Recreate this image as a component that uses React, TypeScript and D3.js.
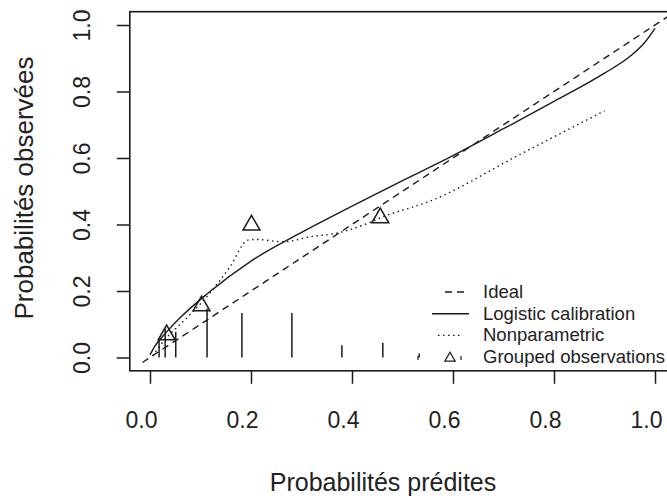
import * as d3 from "d3";
import React, { useEffect, useRef } from "react";

// axis ticks
const tickValues = [0, 0.2, 0.4, 0.6, 0.8, 1.0];

// ideal line end points (y = x)
const idealP = [-0.015, 1.06];

// logistic calibration curve
const logisticP = [0.0, 0.01, 0.033, 0.06, 0.112, 0.2, 0.3, 0.4, 0.5, 0.6, 0.7, 0.8, 0.9, 0.95, 0.98, 1.0];
const logisticObs = [0.008, 0.035, 0.077, 0.12, 0.19, 0.29, 0.376, 0.455, 0.532, 0.607, 0.688, 0.77, 0.855, 0.905, 0.948, 0.99];

// nonparametric (lowess) curve
const npP = [0.005, 0.03, 0.06, 0.112, 0.158, 0.194, 0.21, 0.264, 0.317, 0.37, 0.422, 0.461, 0.554, 0.733, 0.9];
const npObs = [0.005, 0.055, 0.1, 0.182, 0.272, 0.353, 0.355, 0.348, 0.363, 0.374, 0.398, 0.423, 0.47, 0.611, 0.742];

// grouped observations (triangles)
const groupP = [0.033, 0.102, 0.201, 0.456];
const groupObs = [0.068, 0.155, 0.398, 0.42];

// distribution of predicted risks (spikes at the bottom)
const riskP = [0.018, 0.03, 0.051, 0.113, 0.182, 0.281, 0.38, 0.461, 0.533];
const riskFreq = [0.052, 0.087, 0.077, 0.147, 0.134, 0.134, 0.037, 0.044, 0.012];

const legendLabels = ["Ideal", "Logistic calibration", "Nonparametric", "Grouped observations"];

const W = 667;
const H = 498;
const INK = "#1c1c1c";
const FONT = "'Liberation Sans', Arial, sans-serif";

const Chart: React.FC = () => {
  const ref = useRef<SVGSVGElement>(null);

  useEffect(() => {
    if (!ref.current) return;
    const svg = d3.select(ref.current);
    svg.selectAll("*").remove();

    const x = d3.scaleLinear().domain([-0.04, 1.04]).range([129.8, 675.2]);
    const y = d3.scaleLinear().domain([-0.04, 1.04]).range([370.8, 11.7]);

    svg
      .append("defs")
      .append("clipPath")
      .attr("id", "plotclip")
      .append("rect")
      .attr("x", x(-0.04))
      .attr("y", y(1.04))
      .attr("width", x(1.04) - x(-0.04))
      .attr("height", y(-0.04) - y(1.04));

    const plot = svg.append("g").attr("clip-path", "url(#plotclip)");

    const line = d3
      .line<[number, number]>()
      .x((d) => x(d[0]))
      .y((d) => y(d[1]));

    // ideal
    plot
      .append("path")
      .datum(idealP.map((p) => [p, p] as [number, number]))
      .attr("fill", "none")
      .attr("stroke", INK)
      .attr("stroke-width", 1.4)
      .attr("stroke-dasharray", "7,5")
      .attr("d", line);

    // logistic calibration
    plot
      .append("path")
      .datum(logisticP.map((p, i) => [p, logisticObs[i]] as [number, number]))
      .attr("fill", "none")
      .attr("stroke", INK)
      .attr("stroke-width", 1.4)
      .attr("d", line.curve(d3.curveMonotoneX));

    // nonparametric
    plot
      .append("path")
      .datum(npP.map((p, i) => [p, npObs[i]] as [number, number]))
      .attr("fill", "none")
      .attr("stroke", INK)
      .attr("stroke-width", 1.4)
      .attr("stroke-dasharray", "1.5,3.5")
      .attr("d", line.curve(d3.curveMonotoneX));

    // risk distribution spikes
    plot
      .selectAll(".spike")
      .data(riskP)
      .enter()
      .append("line")
      .attr("x1", (d) => x(d))
      .attr("x2", (d) => x(d))
      .attr("y1", y(0))
      .attr("y2", (d, i) => y(riskFreq[i]))
      .attr("stroke", INK)
      .attr("stroke-width", 1.5);

    // grouped observations
    const tri = d3.symbol().type(d3.symbolTriangle).size(125);
    plot
      .selectAll(".grp")
      .data(groupP)
      .enter()
      .append("path")
      .attr("d", tri)
      .attr("transform", (d, i) => `translate(${x(d)},${y(groupObs[i])})`)
      .attr("fill", "none")
      .attr("stroke", INK)
      .attr("stroke-width", 1.5);

    // box
    svg
      .append("rect")
      .attr("x", x(-0.04))
      .attr("y", y(1.04))
      .attr("width", x(1.04) - x(-0.04))
      .attr("height", y(-0.04) - y(1.04))
      .attr("fill", "none")
      .attr("stroke", INK)
      .attr("stroke-width", 1.6);

    // x axis
    const gx = svg
      .append("g")
      .attr("transform", `translate(0,${y(-0.04)})`)
      .call(d3.axisBottom(x).tickValues(tickValues).tickSize(13).tickFormat(d3.format(".1f")));
    gx.select(".domain").remove();
    gx.selectAll("line").attr("stroke", INK).attr("stroke-width", 1.5);
    gx.selectAll("text")
      .attr("x", -9)
      .attr("y", 57)
      .attr("dy", 0)
      .attr("fill", "#222")
      .style("font-family", FONT)
      .style("font-size", "23px");

    // y axis
    const gy = svg
      .append("g")
      .attr("transform", `translate(${x(-0.04)},0)`)
      .call(d3.axisLeft(y).tickValues(tickValues).tickSize(13).tickFormat(d3.format(".1f")));
    gy.select(".domain").remove();
    gy.selectAll("line").attr("stroke", INK).attr("stroke-width", 1.5);
    gy.selectAll("text")
      .attr("x", 0)
      .attr("y", 0)
      .attr("dy", 0)
      .attr("transform", "translate(-40,0) rotate(-90)")
      .attr("text-anchor", "middle")
      .attr("fill", "#222")
      .style("font-family", FONT)
      .style("font-size", "23px");

    // axis titles
    svg
      .append("text")
      .attr("x", 383)
      .attr("y", 491)
      .attr("text-anchor", "middle")
      .attr("fill", "#222")
      .style("font-family", FONT)
      .style("font-size", "25px")
      .text("Probabilités prédites");

    svg
      .append("text")
      .attr("transform", "translate(33,188) rotate(-90)")
      .attr("text-anchor", "middle")
      .attr("fill", "#222")
      .style("font-family", FONT)
      .style("font-size", "26px")
      .text("Probabilités observées");

    // legend
    const lg = svg.append("g");
    const rowY = (i: number) => 298 + i * 21.7;
    lg.selectAll(".lt")
      .data(legendLabels)
      .enter()
      .append("text")
      .attr("x", 483)
      .attr("y", (d, i) => rowY(i))
      .attr("fill", "#222")
      .style("font-family", FONT)
      .style("font-size", "18.5px")
      .text((d) => d);

    const sym = (i: number) => rowY(i) - 6;
    lg.append("line")
      .attr("x1", 445).attr("x2", 469)
      .attr("y1", sym(0)).attr("y2", sym(0))
      .attr("stroke", INK).attr("stroke-width", 1.3)
      .attr("stroke-dasharray", "7,5");
    lg.append("line")
      .attr("x1", 432).attr("x2", 469)
      .attr("y1", sym(1)).attr("y2", sym(1))
      .attr("stroke", INK).attr("stroke-width", 1.4);
    lg.append("line")
      .attr("x1", 438).attr("x2", 461)
      .attr("y1", sym(2)).attr("y2", sym(2))
      .attr("stroke", INK).attr("stroke-width", 1.3)
      .attr("stroke-dasharray", "1.5,3.5");
    lg.append("path")
      .attr("d", d3.symbol().type(d3.symbolTriangle).size(45)())
      .attr("transform", `translate(450,${sym(3) + 1})`)
      .attr("fill", "none")
      .attr("stroke", INK)
      .attr("stroke-width", 1.3);
    [418, 461].forEach((mx) => {
      lg.append("line")
        .attr("x1", mx).attr("x2", mx)
        .attr("y1", sym(3) - 1).attr("y2", sym(3) + 3)
        .attr("stroke", INK).attr("stroke-width", 1.2);
    });
  }, []);

  return (
    <svg
      ref={ref}
      width={W}
      height={H}
      style={{ position: "absolute", left: 0, top: 0, background: "#fff", display: "block" }}
    />
  );
};

export default function App() {
  return <Chart />;
}
